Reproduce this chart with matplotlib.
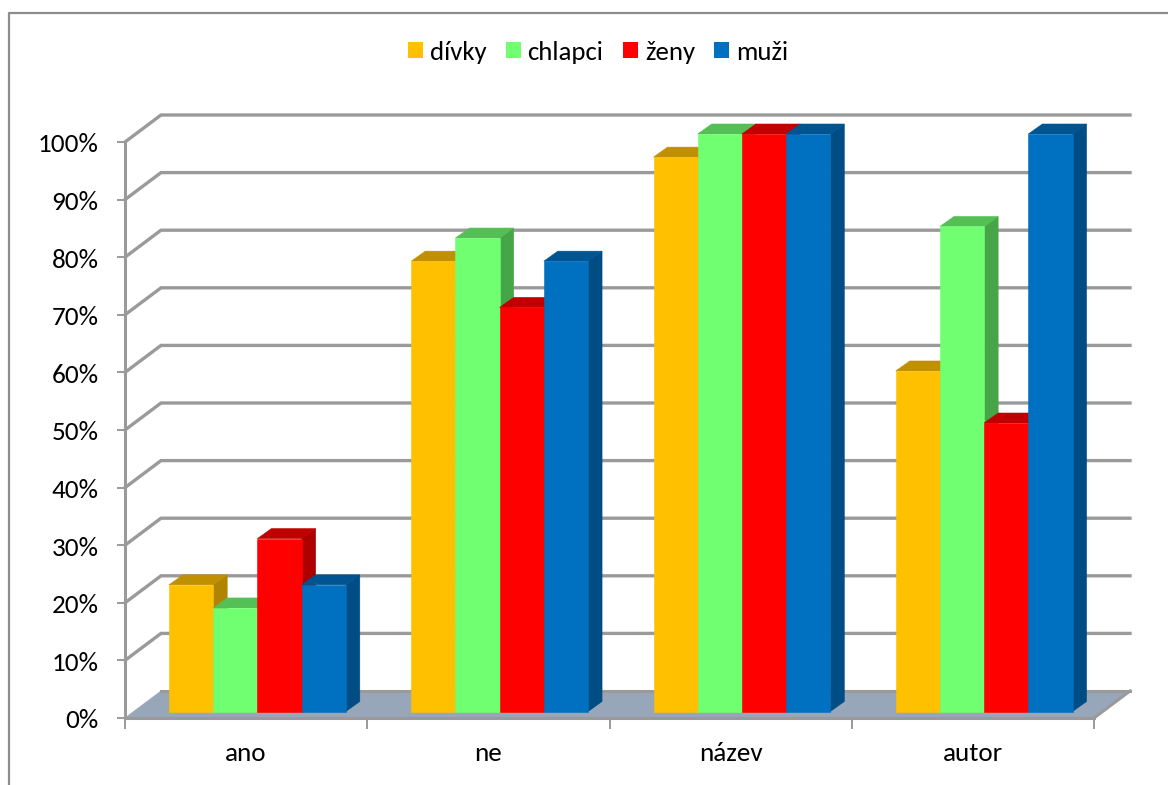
import matplotlib
matplotlib.use("Agg")
import matplotlib.pyplot as plt
from matplotlib.patches import Polygon, Rectangle
from matplotlib.ticker import PercentFormatter, FixedLocator, NullFormatter
from matplotlib.transforms import ScaledTranslation

categories = ["ano", "ne", "název", "autor"]
series_names = ["dívky", "chlapci", "ženy", "muži"]
divky = [22, 78, 96, 59]
chlapci = [18, 82, 100, 84]
zeny = [30, 70, 100, 50]
muzi = [22, 78, 100, 100]
y_ticks = list(range(0, 101, 10))
front_colors = ["#FFC000", "#70FF70", "#FF0000", "#0070C0"]
top_colors = ["#C09000", "#54BF54", "#C00000", "#005491"]
side_colors = ["#B08400", "#46A546", "#AD0000", "#004C84"]
GRID = "#9A9A9A"
FLOOR = "#98A6BA"

W, H = 1168, 785
plt.rcParams["font.family"] = ["Carlito", "Lato", "DejaVu Sans"]
fig = plt.figure(figsize=(W / 100, H / 100), dpi=100, facecolor="white")
ax = fig.add_axes([125 / W, 1 - 718 / H, (1094 - 125) / W, (718 - 142) / H])
ax.set_xlim(0, 4)
ax.set_ylim(0, 100)
ax.patch.set_visible(False)
sx = 4 / (1094 - 125)   # data units per pixel
sy = 100 / (718 - 142)

for s in ("top", "right"):
    ax.spines[s].set_visible(False)
for s in ("left", "bottom"):
    ax.spines[s].set_color(GRID)
    ax.spines[s].set_linewidth(2.2)
    ax.spines[s].set_zorder(3)

ax.yaxis.set_major_locator(FixedLocator(y_ticks))
ax.yaxis.set_major_formatter(PercentFormatter(100, decimals=0))
ax.xaxis.set_major_locator(FixedLocator(range(5)))
ax.xaxis.set_major_formatter(NullFormatter())
ax.xaxis.set_minor_locator(FixedLocator([i + 0.5 for i in range(4)]))
ax.set_xticks([i + 0.5 for i in range(4)], categories, minor=True)
ax.tick_params(axis="y", length=6, width=1.4, color=GRID, labelsize=19.5, pad=13)
ax.tick_params(axis="x", which="major", length=8, width=1.4, color=GRID)
ax.tick_params(axis="x", which="minor", length=0, labelsize=19.5, pad=17)
# the reference's y labels sit slightly below their ticks
nudge = ScaledTranslation(0, -1 / 100, fig.dpi_scale_trans)
for tick in ax.yaxis.get_major_ticks():
    tick.label1.set_transform(tick.label1.get_transform() + nudge)

# walls: floor and gridlines in oblique projection
dx, dy = 36 * sx, 27 * sy
ax.add_patch(Polygon([(0, 0), (4, 0), (4 + dx, dy), (dx, dy)], closed=True,
                     facecolor=FLOOR, edgecolor=FLOOR, lw=0.5, clip_on=False, zorder=1))
for t in y_ticks:
    if t > 0:
        ax.plot([0, dx, 4 + dx], [t, t + dy, t + dy], color=GRID, lw=2.4,
                clip_on=False, zorder=2, solid_joinstyle="miter")
ax.plot([dx, 4 + dx], [dy, dy], color=GRID, lw=2.2, clip_on=False, zorder=2)
ax.plot([4, 4 + dx], [0, dy], color=GRID, lw=2.2, clip_on=False, zorder=2)

# 3-D style bars
series = [divky, chlapci, zeny, muzi]
bw = 44.2 * sx
gap = 44 * sx
ddx, ddy = 14 * sx, 10 * sy
base = 6.5 * sy
for ci in range(len(categories)):
    for si, values in enumerate(series):
        v = values[ci]
        x0 = ci + gap + si * bw
        x1 = x0 + bw
        top = 6 * sy + v * (578 / 576)
        z = 10 + si * 3
        ax.add_patch(Polygon([(x1, base), (x1 + ddx, base + ddy), (x1 + ddx, top + ddy), (x1, top)],
                             closed=True, fc=side_colors[si], ec=side_colors[si], lw=0.4, clip_on=False, zorder=z))
        ax.add_patch(Polygon([(x0, top), (x0 + ddx, top + ddy), (x1 + ddx, top + ddy), (x1, top)],
                             closed=True, fc=top_colors[si], ec=top_colors[si], lw=0.4, clip_on=False, zorder=z + 1))
        ax.add_patch(Rectangle((x0, base), bw, top - base, fc=front_colors[si], ec=front_colors[si],
                               lw=0.4, clip_on=False, zorder=z + 2))

# legend
handles = [Rectangle((0, 0), 1, 1, fc=c, ec="none") for c in front_colors]
fig.legend(handles, series_names, loc="center", bbox_to_anchor=(598 / W, 1 - 52 / H), ncol=4,
           frameon=False, fontsize=19.3, handlelength=0.56, handleheight=0.56, handletextpad=0.26,
           columnspacing=0.72, borderpad=0, borderaxespad=0)

# chart frame: top and left edges only
fig.add_artist(plt.Line2D([8.5 / W, 8.5 / W, 1], [0, 1 - 12.5 / H, 1 - 12.5 / H],
                          color="#8C8C8C", lw=1.6))

fig.savefig("out.png", dpi=100)
